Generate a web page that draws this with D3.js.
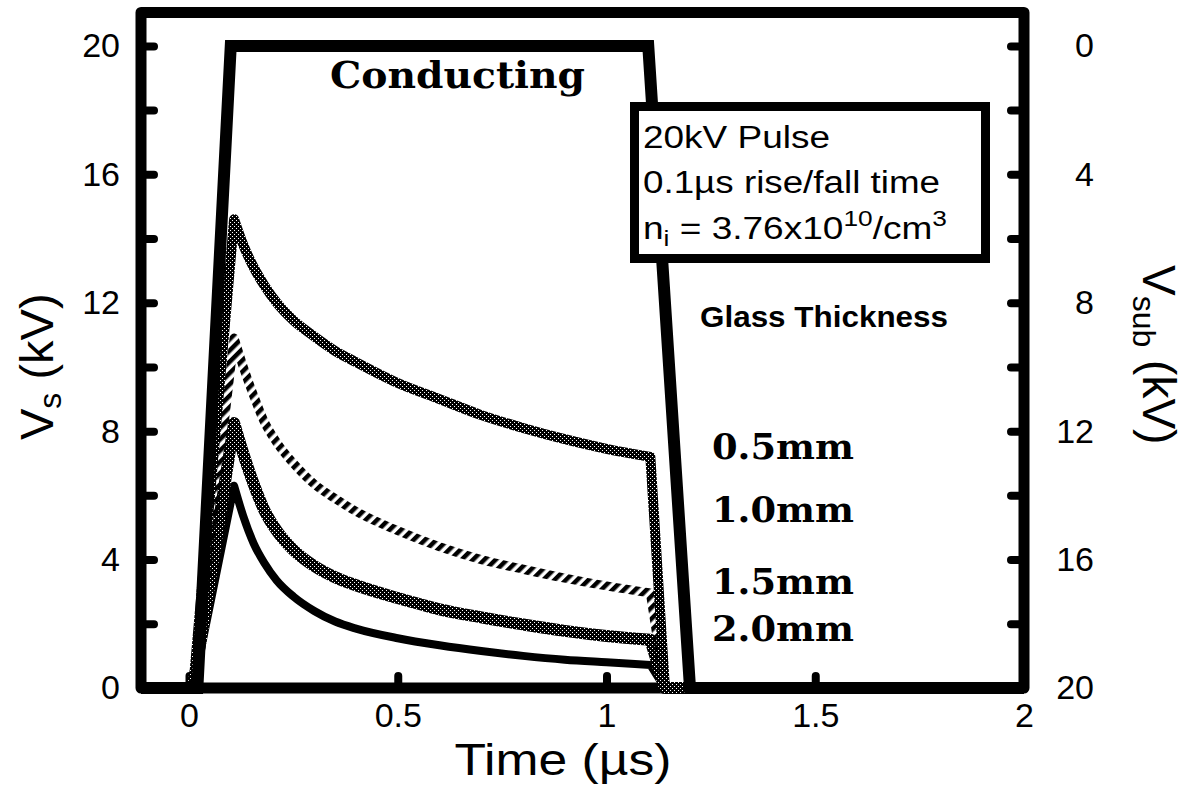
<!DOCTYPE html>
<html>
<head>
<meta charset="utf-8">
<script src="https://cdn.jsdelivr.net/npm/d3@7"></script>
<style>
  body { margin: 0; background: #fff; }
  svg { display: block; }
</style>
</head>
<body>
<div id="chart"></div>
<script>
// Vs response to a 20kV pulse for different glass thicknesses (D3 v7)

const width = 1192;
const height = 790;
const margin = { top: 12.5, right: 168, bottom: 102, left: 141 };

// data
const timeUs = [-0.115, 0.01, 0.108, 0.13, 0.155, 0.18, 0.21, 0.25, 0.3, 0.35, 0.4, 0.5, 0.6, 0.7, 0.8, 0.9, 1.0, 1.105, 1.14, 2.0];
const vs05mm = [0, 0, 14.6, 13.8, 13.1, 12.55, 12.0, 11.45, 10.95, 10.5, 10.15, 9.5, 9.0, 8.5, 8.1, 7.75, 7.45, 7.2, 0, 0];
const vs10mm = [0, 0, 10.9, 10.0, 9.1, 8.3, 7.65, 7.0, 6.35, 5.9, 5.5, 4.9, 4.4, 4.0, 3.7, 3.42, 3.18, 2.96, 0, 0];
const vs15mm = [0, 0, 8.25, 7.3, 6.35, 5.55, 4.9, 4.3, 3.8, 3.45, 3.2, 2.8, 2.45, 2.2, 1.98, 1.78, 1.62, 1.5, 0, 0];
const vs20mm = [0, 0, 6.3, 5.35, 4.5, 3.9, 3.35, 2.85, 2.4, 2.07, 1.85, 1.55, 1.33, 1.15, 1.0, 0.88, 0.8, 0.72, 0, 0];

const pulseTime = [-0.115, 0.02, 0.1, 1.1, 1.2, 2.0];
const pulseVsub = [20, 20, 0, 0, 20, 20];

const seriesNames = ['0.5mm', '1.0mm', '1.5mm', '2.0mm'];
const timeTicks = [0, 0.5, 1, 1.5, 2];
const vsTicks = [0, 2, 4, 6, 8, 10, 12, 14, 16, 18, 20];
const vsLabelled = [0, 4, 8, 12, 16, 20];

const x = d3.scaleLinear().domain([-0.115, 2]).range([margin.left, width - margin.right]);
const y = d3.scaleLinear().domain([0, 21.04]).range([height - margin.bottom, margin.top]);
const ySub = d3.scaleLinear().domain([-1.04, 20]).range([margin.top, height - margin.bottom]);

const svg = d3.select('#chart')
  .append('svg')
  .attr('width', width)
  .attr('height', height)
  .attr('viewBox', `0 0 ${width} ${height}`);

const defs = svg.append('defs');

// halftone for the grey curves (dots on a diagonal grid)
function stipple(id, size) {
  const p = defs.append('pattern')
    .attr('id', id).attr('width', 4).attr('height', 4)
    .attr('patternUnits', 'userSpaceOnUse');
  p.append('rect').attr('width', 4).attr('height', 4).attr('fill', '#000');
  [[0, 0], [2, 2]].forEach(([px, py]) => {
    p.append('rect').attr('x', px).attr('y', py).attr('width', size).attr('height', size)
      .attr('fill', '#fff').attr('shape-rendering', 'crispEdges');
  });
}
stipple('stipDark', 1);
stipple('stipLight', 1.3);

// diagonal hatching for the 1.0mm curve
const hatch = defs.append('pattern')
  .attr('id', 'hatch').attr('width', 8).attr('height', 8)
  .attr('patternUnits', 'userSpaceOnUse')
  .attr('patternTransform', 'rotate(45)');
hatch.append('rect').attr('width', 4.5).attr('height', 8).attr('fill', '#000');

const sansFont = '"Liberation Sans", Arial, Helvetica, sans-serif';
const serifFont = '"DejaVu Serif", "Liberation Serif", serif';

// frame
svg.append('rect')
  .attr('x', margin.left)
  .attr('y', margin.top)
  .attr('width', width - margin.left - margin.right)
  .attr('height', height - margin.top - margin.bottom)
  .attr('fill', 'none')
  .attr('stroke', '#000')
  .attr('stroke-width', 11)
  .attr('stroke-linejoin', 'round');

function styleAxis(g) {
  g.select('.domain').remove();
  g.selectAll('.tick line')
    .attr('stroke', '#000')
    .attr('stroke-width', 8)
    .attr('stroke-linecap', 'round');
  g.selectAll('.tick text')
    .attr('fill', '#000')
    .style('font-family', sansFont)
    .style('font-size', '34px');
}

// left axis (Vs)
svg.append('g')
  .attr('transform', `translate(${margin.left},0)`)
  .call(d3.axisLeft(y).tickValues(vsTicks).tickSize(-13).tickPadding(21)
    .tickFormat(d => vsLabelled.includes(d) ? d : ''))
  .call(styleAxis);

// right axis (Vsub, reversed)
svg.append('g')
  .attr('transform', `translate(${width - margin.right},0)`)
  .call(d3.axisRight(ySub).tickValues(vsTicks).tickSize(-13)
    .tickFormat(d => vsLabelled.includes(d) ? d : ''))
  .call(styleAxis)
  .call(g => g.selectAll('.tick text').attr('text-anchor', 'end').attr('x', 70));

// bottom axis (time)
svg.append('g')
  .attr('transform', `translate(0,${height - margin.bottom})`)
  .call(d3.axisBottom(x).tickValues(timeTicks).tickSize(-12).tickPadding(15)
    .tickFormat(d3.format('')))
  .call(styleAxis);

// Vs curves: straight rise, smooth decay, straight drop
const peakIdx = 2;
const endIdx = 17;
const straight = d3.line().x(d => x(d[0])).y(d => y(d[1]));
const smooth = d3.line().x(d => x(d[0])).y(d => y(d[1])).curve(d3.curveMonotoneX);

function vsPath(values) {
  const pts = values.map((v, i) => [timeUs[i], v]);
  const rise = straight(pts.slice(0, peakIdx + 1));
  const decay = smooth(pts.slice(peakIdx, endIdx + 1)).replace(/^M[^LC]*/, '');
  const drop = straight(pts.slice(endIdx)).replace(/^M[^L]*/, '');
  return rise + decay + drop;
}

const curves = [
  { name: seriesNames[3], values: vs20mm, stroke: '#000', width: 8 },
  { name: seriesNames[2], values: vs15mm, stroke: 'url(#stipLight)', width: 12 },
  { name: seriesNames[1], values: vs10mm, stroke: 'url(#hatch)', width: 9 },
  { name: seriesNames[0], values: vs05mm, stroke: 'url(#stipDark)', width: 10 }
];

svg.selectAll('.vs-curve')
  .data(curves)
  .enter()
  .append('path')
  .attr('class', 'vs-curve')
  .attr('d', d => vsPath(d.values))
  .attr('fill', 'none')
  .attr('stroke', d => d.stroke)
  .attr('stroke-width', d => d.width)
  .attr('stroke-linejoin', 'round');

// substrate voltage pulse
const pulseLine = d3.line()
  .x((d, i) => x(pulseTime[i]))
  .y(d => ySub(d));

svg.append('path')
  .attr('d', pulseLine(pulseVsub))
  .attr('fill', 'none')
  .attr('stroke', '#000')
  .attr('stroke-width', 12)
  .attr('stroke-linejoin', 'miter');

// info box
svg.append('rect')
  .attr('x', 634.5)
  .attr('y', 106.5)
  .attr('width', 351)
  .attr('height', 152)
  .attr('fill', '#fff')
  .attr('stroke', '#000')
  .attr('stroke-width', 9);

const info = svg.append('g')
  .style('font-family', sansFont)
  .style('font-size', '31px')
  .attr('fill', '#000');

info.append('text').attr('x', 643).attr('y', 148)
  .attr('textLength', 187).attr('lengthAdjust', 'spacingAndGlyphs')
  .text('20kV Pulse');
info.append('text').attr('x', 643).attr('y', 193)
  .attr('textLength', 297).attr('lengthAdjust', 'spacingAndGlyphs')
  .text('0.1\u00b5s rise/fall time');

const niText = info.append('text').attr('x', 643).attr('y', 239)
  .attr('textLength', 304).attr('lengthAdjust', 'spacingAndGlyphs');
niText.append('tspan').text('n');
niText.append('tspan').attr('dy', 7).style('font-size', '22px').text('i');
niText.append('tspan').attr('dy', -7).text(' = 3.76x10');
niText.append('tspan').attr('dy', -13).style('font-size', '22px').text('10');
niText.append('tspan').attr('dy', 13).text('/cm');
niText.append('tspan').attr('dy', -13).style('font-size', '22px').text('3');

// labels inside the plot
svg.append('text')
  .attr('x', 330).attr('y', 88)
  .attr('textLength', 255).attr('lengthAdjust', 'spacingAndGlyphs')
  .style('font-family', serifFont).style('font-weight', 'bold').style('font-size', '37px')
  .text('Conducting');

svg.append('text')
  .attr('x', 700).attr('y', 327)
  .attr('textLength', 248).attr('lengthAdjust', 'spacingAndGlyphs')
  .style('font-family', sansFont).style('font-weight', 'bold').style('font-size', '30px')
  .text('Glass Thickness');

const seriesBaselines = [459, 522, 594, 641];
svg.selectAll('.series-label')
  .data(seriesNames)
  .enter()
  .append('text')
  .attr('class', 'series-label')
  .attr('x', 712)
  .attr('y', (d, i) => seriesBaselines[i])
  .attr('textLength', 142).attr('lengthAdjust', 'spacingAndGlyphs')
  .style('font-family', serifFont).style('font-weight', 'bold').style('font-size', '36px')
  .text(d => d);

// axis titles
svg.append('text')
  .attr('x', 563).attr('y', 775)
  .attr('text-anchor', 'middle')
  .attr('textLength', 217).attr('lengthAdjust', 'spacingAndGlyphs')
  .style('font-family', sansFont).style('font-size', '44px')
  .text('Time (\u00b5s)');

const vsTitle = svg.append('text')
  .attr('transform', 'translate(53,440) rotate(-90)')
  .style('font-family', sansFont).style('font-size', '47px');
vsTitle.append('tspan').text('V');
vsTitle.append('tspan').attr('dy', 8).style('font-size', '32px').text('s');
vsTitle.append('tspan').attr('dy', -8).text(' (kV)');

const subTitle = svg.append('text')
  .attr('transform', 'translate(1143,265) rotate(90)')
  .style('font-family', sansFont).style('font-size', '46px');
subTitle.append('tspan').text('V');
subTitle.append('tspan').attr('dy', 10).style('font-size', '32px').text('sub');
subTitle.append('tspan').attr('dy', -10).text(' (kV)');
</script>
</body>
</html>
